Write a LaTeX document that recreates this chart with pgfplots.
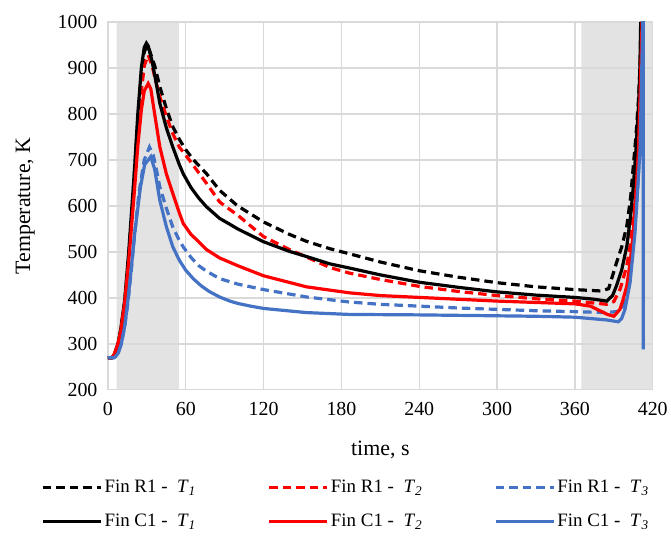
\documentclass[border=0pt]{standalone}
\usepackage{pgfplots}
\pgfplotsset{compat=1.18}
\usepackage{fontspec}
\setmainfont{Liberation Serif}

\definecolor{cred}{RGB}{255,0,0}
\definecolor{cblue}{RGB}{68,114,196}
\definecolor{shade}{RGB}{227,227,227}
\definecolor{gridc}{RGB}{217,217,217}

\begin{document}
\begin{tikzpicture}
\begin{axis}[
  name=ax,
  set layers, clip mode=individual,
  scale only axis,
  width=545bp, height=368bp,
  xmin=0, xmax=420, ymin=200, ymax=1000,
  xtick={0,60,...,420}, ytick={200,300,...,1000},
  grid=major,
  major grid style={draw=gridc, line width=1.3bp},
  axis line style={draw=gridc, line width=1.3bp},
  major tick length=0pt,
  /pgf/number format/assume math mode=true,
  /pgf/number format/set thousands separator={},
  tick label style={font=\fontsize{20}{24}\selectfont},
  xticklabel style={yshift=-9bp},
  yticklabel style={xshift=-7bp},
  xlabel={time, s}, ylabel={Temperature, K},
  label style={font=\fontsize{22}{26}\selectfont},
  xlabel style={at={(ticklabel cs:0.5,18bp)}},
  ylabel style={at={(ticklabel cs:0.5,16bp)}},
  legend columns=3,
  legend style={at={(0.437,-0.235)}, anchor=north, draw=none, fill=none,
    font=\fontsize{19}{23}\selectfont, row sep=16bp,
    /tikz/every even column/.append style={column sep=70bp}},
  legend image code/.code={\draw[#1] (0bp,0bp) -- (58bp,0bp);},
  every axis plot/.append style={line width=3.2bp},
]
% shaded heating intervals
\addplot[fill=shade, draw=none, forget plot, on layer=axis background, line width=0pt]
  coordinates {(6.7,200) (6.7,1000) (54.7,1000) (54.7,200) (6.7,200)};
\addplot[fill=shade, draw=none, forget plot, on layer=axis background, line width=0pt]
  coordinates {(365,200) (365,1000) (420,1000) (420,200) (365,200)};

% Fin R1 (dashed)
\addplot[black, dash pattern=on 8.5bp off 5bp] coordinates {
  (0,270) (3,270) (5,276) (8,300) (10,330) (13,390) (16,490) (19,610) (22,740)
  (25,860) (28,935) (30.5,950) (33,930) (36,905) (40,859) (45,812) (50,772)
  (55,745) (60,722) (66,700) (76,670) (86,634) (100,600) (120,565) (140,538)
  (153,523) (171,507) (186,496) (210,478) (240,459) (270,445) (300,433)
  (330,424) (360,418) (380,415) (386,420) (392,476) (396,510) (400,556)
  (403,620) (405,686) (407,750) (409,830) (410.5,920) (411.3,1000)
};
\addlegendentry{Fin R1 -\enspace\textit{T}\textsubscript{\textit{1}}}
\addplot[cred, dash pattern=on 8.5bp off 5bp] coordinates {
  (0,270) (3,270) (5,275) (8,300) (10,330) (13,390) (16,480) (19,600) (22,720)
  (25,830) (28,905) (31,928) (34,905) (37,870) (40,837) (45,795) (50,757)
  (55,728) (63,699) (70,672) (76,649) (86,609) (91,598) (100,580) (120,533)
  (140,505) (153,489) (171,466) (186,454) (210,440) (240,425) (270,414)
  (300,405) (330,398) (360,393) (384.5,386) (390,392) (395,420) (400,470)
  (402.5,512) (405,580) (407.6,671) (409,750) (410.2,866) (411.5,1000)
};
\addlegendentry{Fin R1 -\enspace\textit{T}\textsubscript{\textit{2}}}
\addplot[cblue, dash pattern=on 8.5bp off 5bp] coordinates {
  (0,270) (4,270) (6,273) (8,283) (10.3,300) (13,340) (15.4,390) (18,460)
  (20.6,540) (24,630) (28,700) (32,728) (35,710) (38,670) (40,641) (45,595)
  (50,554) (55,525) (58,511) (64,488) (70,470) (76,458) (86,442) (100,430)
  (120,418) (153,402) (171,396) (186,391) (210,386) (240,382) (270,378)
  (300,375) (330,372) (360,370) (384.5,368) (394.7,371) (397.3,382) (400,410)
  (402.5,454) (405,520) (407.6,599) (409.5,700) (411,830) (412.3,1000)
};
\addlegendentry{Fin R1 -\enspace\textit{T}\textsubscript{\textit{3}}}

% Fin C1 (solid)
\addplot[black] coordinates {
  (0,270) (3,270) (4.5,274) (7.7,300) (10,335) (12.9,395) (16,500) (20.6,685)
  (23,800) (25.8,902) (28,945) (29.6,954) (31,948) (34,915) (37,870) (40,823)
  (45,770) (50,728) (55,690) (58,670) (64,640) (70,617) (76,598) (86,573)
  (94,560) (100,550) (120,522) (140,501) (153,490) (171,474) (186,465)
  (210,450) (240,434) (270,423) (300,413) (330,406) (360,401) (375,397)
  (384.5,393) (389,405) (392,426) (396,460) (400,512) (403,580) (405,642)
  (407,720) (409,816) (410,890) (410.7,1000)
};
\addlegendentry{Fin C1 -\enspace\textit{T}\textsubscript{\textit{1}}}
\addplot[cred] coordinates {
  (0,270) (3,270) (4.5,275) (7.7,300) (10,330) (12.9,390) (16,480) (20.6,640)
  (23,730) (25.8,810) (28,850) (31,866) (33,855) (36,800) (40,728) (45,670)
  (50,627) (55,585) (58,562) (64,538) (70,522) (76,505) (86,487) (100,470)
  (120,448) (153,424) (186,411) (210,405) (240,401) (270,397) (300,393)
  (330,390) (360,387) (372,382) (380,371) (385,364) (390,360) (394.7,375)
  (397,395) (400,426) (402.5,475) (405,541) (407,620) (409,722) (410.7,888)
  (411.8,1000)
};
\addlegendentry{Fin C1 -\enspace\textit{T}\textsubscript{\textit{2}}}
\addplot[cblue] coordinates {
  (0,270) (5,270) (8,280) (10.3,300) (13,340) (15.4,395) (18,465) (20.6,540)
  (25,640) (28.3,690) (33,707) (36,680) (40,612) (45,555) (50,511) (55,482)
  (60,460) (66,441) (72,426) (78,414) (86,402) (94,393) (100,388) (110,382)
  (120,377) (153,368) (186,364) (240,363) (300,361) (330,360) (360,358)
  (384.5,352) (393.4,348) (396,355) (398.6,375) (402.5,433) (406.3,541)
  (410.2,722) (412.3,1000) (412.6,1080) (412.7,288)
};
\addlegendentry{Fin C1 -\enspace\textit{T}\textsubscript{\textit{3}}}
\end{axis}
% margins of the chart area
\path (ax.north west) ++(-108bp,22bp);
\path (ax.south east) ++(18bp,-156bp);
\end{tikzpicture}
\end{document}
